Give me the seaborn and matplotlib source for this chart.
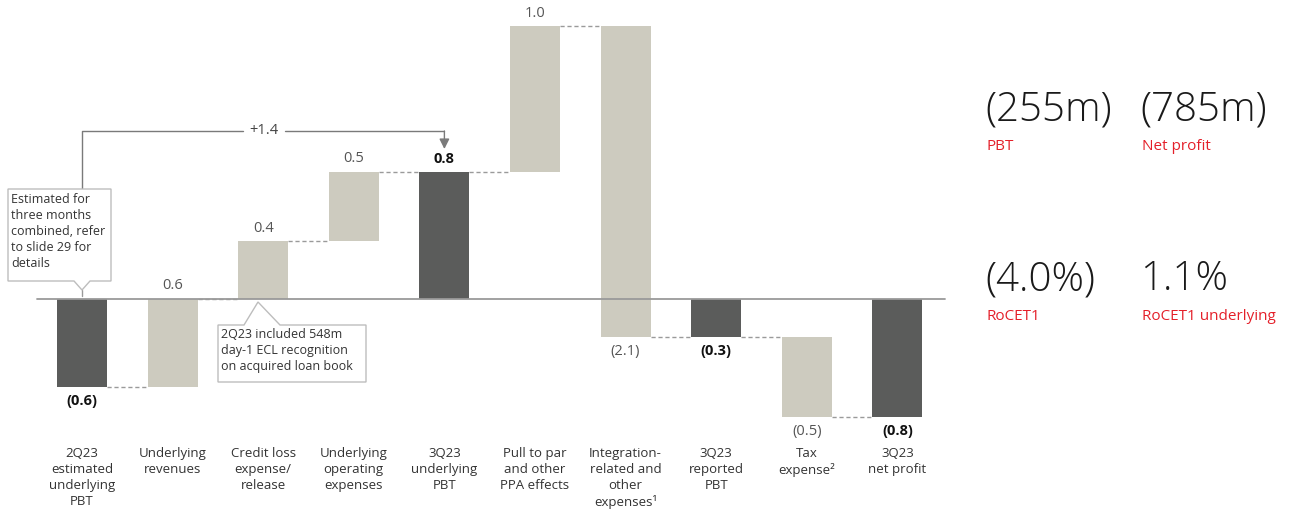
import numpy as np
import pandas as pd
import matplotlib
matplotlib.use("Agg")
import matplotlib.pyplot as plt
from matplotlib.patches import Polygon
import seaborn as sns

# ---------------- data ----------------
steps = ["2Q23 PBT", "Revenues", "Credit loss", "Opex", "3Q23 underlying PBT",
         "PPA", "Integration", "3Q23 reported PBT", "Tax", "3Q23 net profit"]
tick_labels = ["2Q23\nestimated\nunderlying\nPBT", "Underlying\nrevenues",
               "Credit loss\nexpense/\nrelease", "Underlying\noperating\nexpenses",
               "3Q23\nunderlying\nPBT", "Pull to par\nand other\nPPA effects",
               "Integration-\nrelated and\nother\nexpenses\u00b9", "3Q23\nreported\nPBT",
               "Tax\nexpense\u00b2", "3Q23\nnet profit"]
values = [-0.58, 0.58, 0.38, 0.46, 0.84, 0.96, -2.05, -0.25, -0.53, -0.78]
is_total = [True, False, False, False, True, False, False, True, False, True]
value_labels = ["(0.6)", "0.6", "0.4", "0.5", "0.8", "1.0", "(2.1)", "(0.3)", "(0.5)", "(0.8)"]
kpi_values = ["(255m)", "(785m)", "(4.0%)", "1.1%"]
kpi_names = ["PBT", "Net profit", "RoCET1", "RoCET1 underlying"]
note_left = "Estimated for\nthree months\ncombined, refer\nto slide 29 for\ndetails"
note_mid = "2Q23 included 548m\nday-1 ECL recognition\non acquired loan book"
bridge_label = "+1.4"

# ---------------- waterfall geometry ----------------
bottoms, heights, levels = [], [], []
level = 0.0
for v, t in zip(values, is_total):
    if t:
        bottoms.append(0.0); heights.append(v); level = v
    else:
        bottoms.append(level); heights.append(v); level = level + v
    levels.append(level)
df = pd.DataFrame({"step": steps, "height": heights})

DARK = "#5b5c5b"
LIGHT = "#cdcbbf"
GRID = "#9a9a9a"

sns.set_theme(style="white")
plt.rcParams["font.family"] = ["Open Sans", "DejaVu Sans"]

W, H = 1306, 524
fig = plt.figure(figsize=(W / 100, H / 100), dpi=100)
# axes: pixel x 0..950, y 0..440
ax = fig.add_axes([0, (H - 440) / H, 950 / W, 440 / H])

sns.barplot(data=df, x="step", y="height", order=steps, bottom=bottoms,
            width=0.55, errorbar=None, ax=ax, color=LIGHT, saturation=1,
            linewidth=0)
for p, t in zip(ax.patches, is_total):
    p.set_facecolor(DARK if t else LIGHT)

# px -> data helpers (scale: 90.6 px per category, 151.6 px per unit, zero at y=299)
def X(px):
    return (px - 82) / 90.6

def Y(py):
    return (299 - py) / 151.6

ax.set_xlim(X(0), X(950))
ax.set_ylim(Y(440), Y(0))
for s in ax.spines.values():
    s.set_visible(False)
ax.set_yticks([])
ax.set_ylabel("")
ax.set_xlabel("")
ax.set_xticks(range(len(steps)))
ax.set_xticklabels(tick_labels, fontsize=9.5, color="#333333", linespacing=1.3)
ax.tick_params(axis="x", length=0, pad=5)

# baseline
ax.plot([X(37), X(945)], [0, 0], color=GRID, lw=1.3, zorder=1)

# connectors
hw = 0.275
for i in range(len(steps) - 1):
    ax.plot([i + hw, i + 1 - hw], [levels[i], levels[i]], color=GRID,
            lw=1, ls=(0, (3, 2)), zorder=1)

# value labels
for i, (lab, t) in enumerate(zip(value_labels, is_total)):
    top = max(bottoms[i], bottoms[i] + heights[i])
    bot = min(bottoms[i], bottoms[i] + heights[i])
    up = heights[i] > 0
    ax.annotate(lab, (i, top if up else bot), xytext=(0, 4 if up else -5),
                textcoords="offset points", ha="center",
                va="bottom" if up else "top", fontsize=10.5,
                fontweight="bold" if t else "normal",
                color="#111111" if t else "#555555")

# callout 1 (left)
poly1 = [(X(8), Y(189)), (X(111), Y(189)), (X(111), Y(281)), (X(90), Y(281)),
         (X(82), Y(290)), (X(74), Y(281)), (X(8), Y(281))]
ax.add_patch(Polygon(poly1, closed=True, facecolor="white", edgecolor="#bdbdbd",
                     lw=1, zorder=4, clip_on=False))
ax.text(X(11), Y(193), note_left, ha="left", va="top", fontsize=9,
        color="#333333", linespacing=1.3, zorder=5)
ax.plot([0, 0], [Y(290), Y(296)], color="#9a9a9a", lw=1, zorder=3)

# callout 2 (middle)
poly2 = [(X(218), Y(325)), (X(244), Y(325)), (X(258), Y(302)), (X(280), Y(325)),
         (X(366), Y(325)), (X(366), Y(382)), (X(218), Y(382))]
ax.add_patch(Polygon(poly2, closed=True, facecolor="white", edgecolor="#bdbdbd",
                     lw=1, zorder=4))
ax.text(X(221), Y(328), note_mid, ha="left", va="top", fontsize=9,
        color="#333333", linespacing=1.3, zorder=5)

# bridge arrow +1.4
by = Y(131)
ax.plot([0, 0, X(243)], [Y(189), by, by], color="#7a7a7a", lw=1, zorder=3)
ax.plot([X(285), 4], [by, by], color="#7a7a7a", lw=1, zorder=3)
ax.annotate("", xy=(4, Y(149)), xytext=(4, by),
            arrowprops=dict(arrowstyle="-|>,head_length=0.5,head_width=0.25",
                            color="#7a7a7a", lw=1, shrinkA=0, shrinkB=0))
ax.text(X(264), by, bridge_label, ha="center", va="center", fontsize=10.5,
        color="#444444")

# KPI panel (figure pixel coordinates)
def fx(px):
    return px / W

def fy(py):
    return 1 - py / H

kpi_pos = [(985, 110), (1140, 110), (985, 280), (1140, 280)]
for (px, py), val, name in zip(kpi_pos, kpi_values, kpi_names):
    fig.text(fx(px), fy(py), val, ha="left", va="center", fontsize=29,
             color="#1a1a1a", fontweight="light")
    fig.text(fx(px + 2), fy(py + 36), name, ha="left", va="center", fontsize=11,
             color="#e4202a")

fig.savefig("out.png", dpi=100)
